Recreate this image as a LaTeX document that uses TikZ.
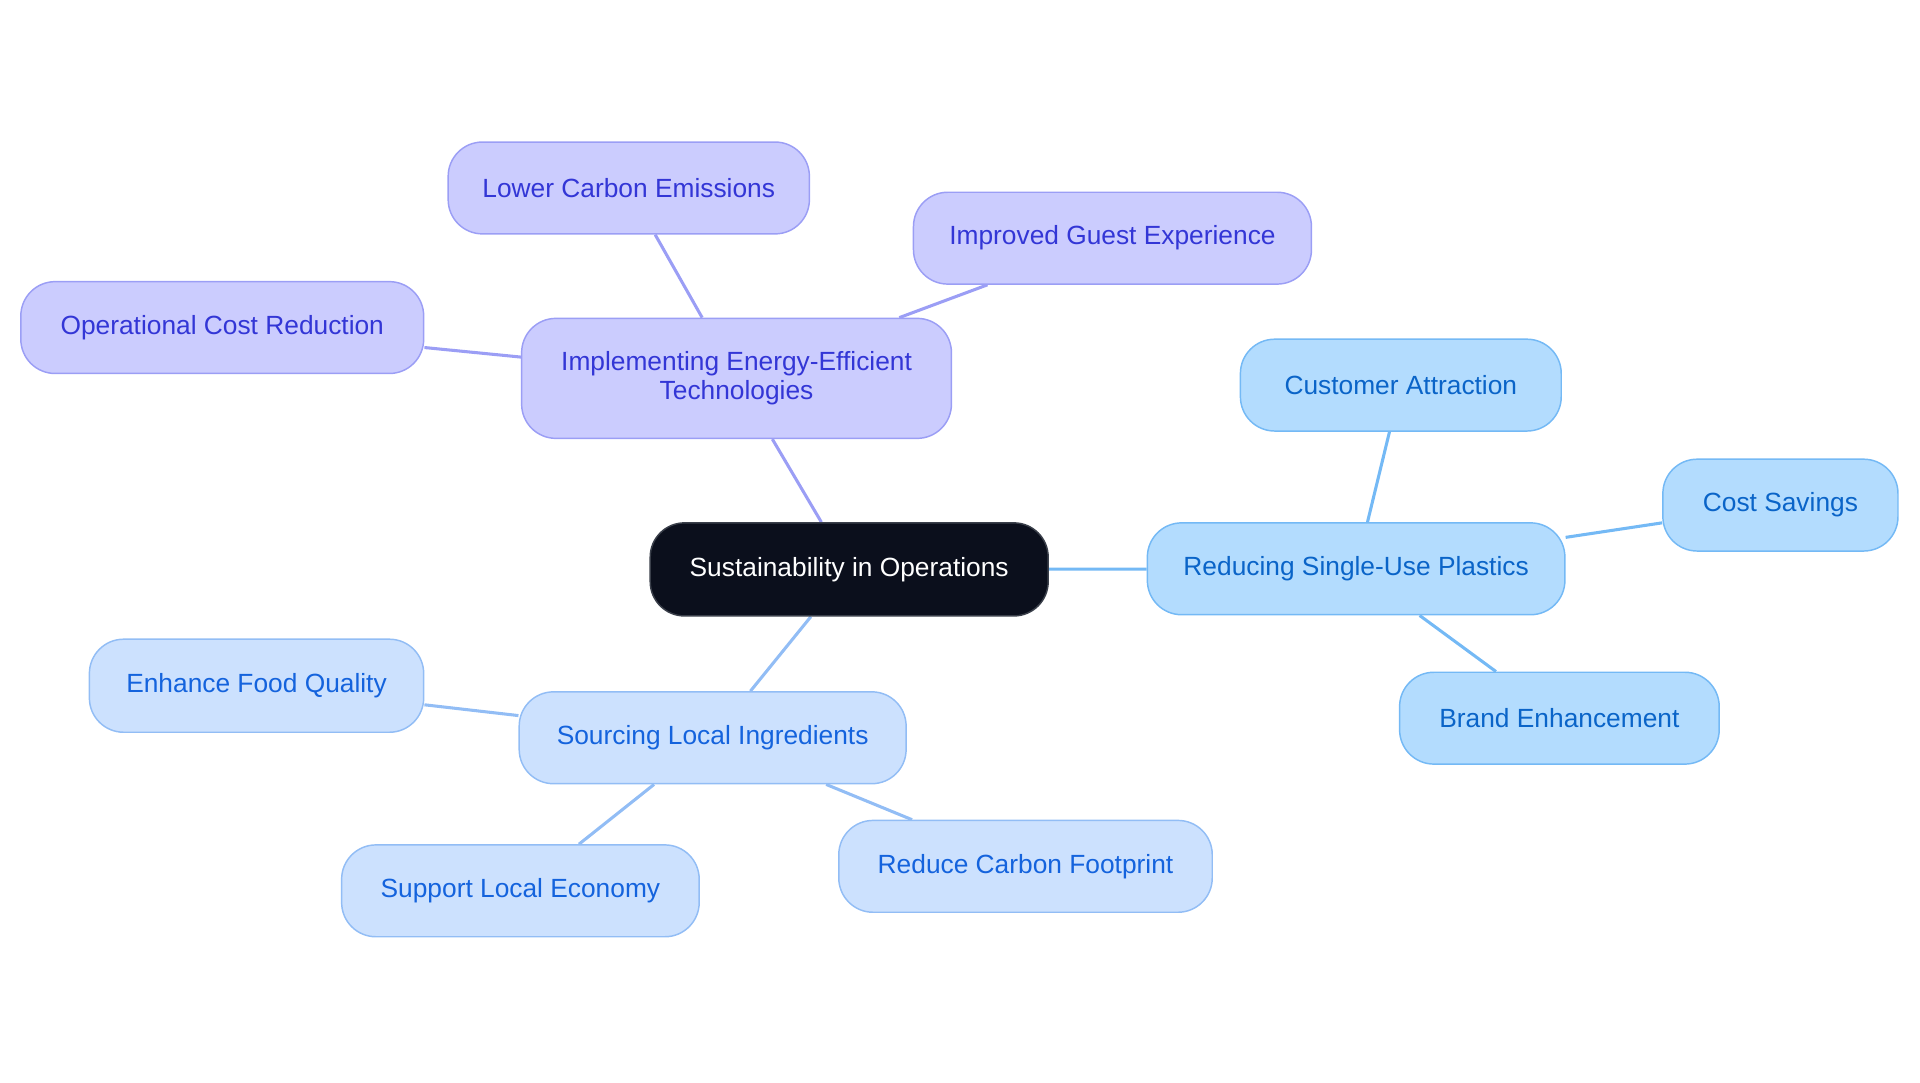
\documentclass[tikz,border=0pt]{standalone}
\usepackage{fontspec}
\setmainfont{Liberation Sans}
\usetikzlibrary{backgrounds}
\definecolor{pfill}{HTML}{CBCCFE}
\definecolor{pdraw}{HTML}{9B9EF5}
\definecolor{ptext}{HTML}{3336D6}
\definecolor{bfill}{HTML}{B3DCFE}
\definecolor{bdraw}{HTML}{74B9F5}
\definecolor{btext}{HTML}{0A64C8}
\definecolor{lfill}{HTML}{CCE1FE}
\definecolor{ldraw}{HTML}{92BDF5}
\definecolor{ltext}{HTML}{1463DD}
\definecolor{cfill}{HTML}{0B0F1C}
\definecolor{cdraw}{HTML}{3A3F4A}
\tikzset{
  box/.style={rectangle, rounded corners=28pt, inner sep=0pt, line width=1.2pt,
    font=\fontsize{21.5}{23.5}\selectfont, align=center},
  pbox/.style={box, fill=pfill, draw=pdraw, text=ptext},
  bbox/.style={box, fill=bfill, draw=bdraw, text=btext},
  lbox/.style={box, fill=lfill, draw=ldraw, text=ltext},
  cbox/.style={box, fill=cfill, draw=cdraw, text=white},
  pedge/.style={draw=pdraw, line width=2.5pt},
  bedge/.style={draw=bdraw, line width=2.5pt},
  ledge/.style={draw=ldraw, line width=2.5pt},
}
\begin{document}
\begin{tikzpicture}[x=1pt,y=-1pt]
\useasboundingbox (0,0) rectangle (1568,884.4);
% central
\node[cbox, minimum width=325pt, minimum height=76pt] (c) at (693.5,465) {Sustainability in Operations};
% energy branch
\node[pbox, minimum width=351pt, minimum height=98pt] (e) at (601.5,309) {Implementing Energy-Efficient\\Technologies};
\node[pbox, minimum width=295pt, minimum height=75pt] (e1) at (513.5,153.5) {Lower Carbon Emissions};
\node[pbox, minimum width=325pt, minimum height=75pt] (e2) at (908.5,194.5) {Improved Guest Experience};
\node[pbox, minimum width=329pt, minimum height=75pt] (e3) at (181.5,267.5) {Operational Cost Reduction};
% plastics branch
\node[bbox, minimum width=341pt, minimum height=75pt] (r) at (1107.5,464.5) {Reducing Single-Use Plastics};
\node[bbox, minimum width=262pt, minimum height=75pt] (r1) at (1144,314.5) {Customer Attraction};
\node[bbox, minimum width=192pt, minimum height=75pt] (r2) at (1454,412.5) {Cost Savings};
\node[bbox, minimum width=261pt, minimum height=75pt] (r3) at (1273.5,586.5) {Brand Enhancement};
% sourcing branch
\node[lbox, minimum width=316pt, minimum height=75pt] (s) at (582,602.5) {Sourcing Local Ingredients};
\node[lbox, minimum width=273pt, minimum height=76pt] (s1) at (209.5,560) {Enhance Food Quality};
\node[lbox, minimum width=292pt, minimum height=75pt] (s2) at (425,727.5) {Support Local Economy};
\node[lbox, minimum width=305pt, minimum height=75pt] (s3) at (837.5,707.5) {Reduce Carbon Footprint};
\begin{scope}[on background layer]
\draw[pedge] (c) -- (e);
\draw[pedge] (e) -- (e1);
\draw[pedge] (e) -- (e2);
\draw[pedge] (e) -- (e3);
\draw[bedge] (c) -- (r);
\draw[bedge] (r) -- (r1);
\draw[bedge] (r) -- (r2);
\draw[bedge] (r) -- (r3);
\draw[ledge] (c) -- (s);
\draw[ledge] (s) -- (s1);
\draw[ledge] (s) -- (s2);
\draw[ledge] (s) -- (s3);
\end{scope}
\end{tikzpicture}
\end{document}
